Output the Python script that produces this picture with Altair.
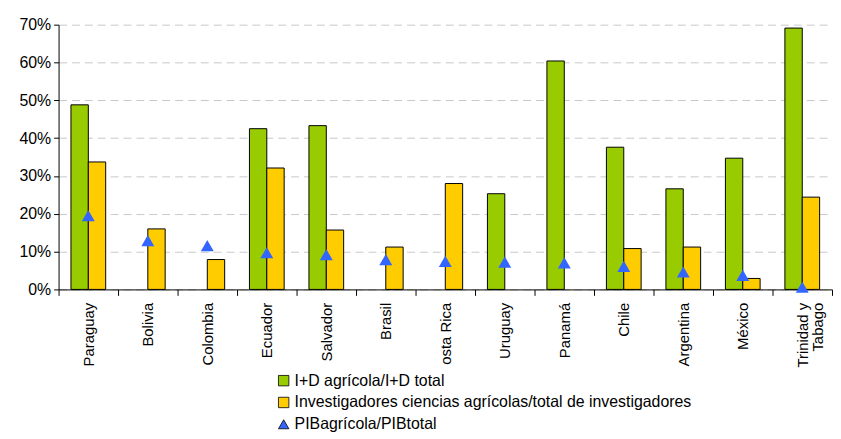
import altair as alt
import pandas as pd

countries = ["Paraguay", "Bolivia", "Colombia", "Ecuador", "Salvador", "Brasil",
             "osta Rica", "Uruguay", "Panamá", "Chile", "Argentina", "México",
             "Trinidad y|Tabago"]
id_agricola = [48.8, None, None, 42.5, 43.3, None, None, 25.3, 60.4, 37.6, 26.6, 34.7, 69.1]
investigadores = [33.7, 16.0, 7.9, 32.1, 15.7, 11.2, 28.0, None, None, 10.8, 11.2, 2.9, 24.4]
pib_agricola = [19.5, 12.9, 11.6, 9.7, 9.2, 7.9, 7.4, 7.2, 7.0, 6.1, 4.6, 3.7, 0.6]

series = ["I+D agrícola/I+D total",
          "Investigadores ciencias agrícolas/total de investigadores",
          "PIBagrícola/PIBtotal"]
colors = ["#99CC00", "#FFCC00", "#3366FF"]
shapes = ["square", "square", "triangle-up"]
y_ticks = [0, 0.1, 0.2, 0.3, 0.4, 0.5, 0.6, 0.7]

rows = []
for c, g, v in zip(countries, id_agricola, investigadores):
    if g is not None:
        rows.append({"pais": c, "serie": series[0], "valor": g / 100})
    if v is not None:
        rows.append({"pais": c, "serie": series[1], "valor": v / 100})
bars_df = pd.DataFrame(rows)
pts_df = pd.DataFrame({"pais": countries, "serie": series[2],
                       "valor": [p / 100 for p in pib_agricola]})

x = alt.X("pais:N", sort=countries,
          scale=alt.Scale(domain=countries, paddingInner=0, paddingOuter=0),
          axis=alt.Axis(title=None, labelAngle=-90, tickBand="extent",
                        labelExpr="split(datum.label, '|')",
                        labelFont="Liberation Sans", labelFontSize=15,
                        labelColor="black", labelPadding=7,
                        domainColor="black", tickColor="black", tickSize=6,
                        labelLineHeight=15))
y = alt.Y("valor:Q", scale=alt.Scale(domain=[0, 0.7], nice=False, zero=True),
          axis=alt.Axis(title=None, values=y_ticks, format=".0%",
                        labelFont="Liberation Sans", labelFontSize=16,
                        labelColor="black", labelPadding=3,
                        domainColor="black", tickColor="black", tickSize=5,
                        grid=True, gridDash=[8, 5], gridColor="#c8c8c8"))

leg = alt.Legend(title=None, orient="none", legendX=219, legendY=351,
                 labelFont="Liberation Sans", labelFontSize=16, labelColor="black",
                 labelLimit=700, symbolSize=110, rowPadding=6,
                 symbolStrokeColor="black", symbolStrokeWidth=0.8, labelOffset=3)
color = alt.Color("serie:N", scale=alt.Scale(domain=series, range=colors), legend=leg)
shape = alt.Shape("serie:N", scale=alt.Scale(domain=series, range=shapes), legend=leg)

bars = alt.Chart(bars_df).mark_bar(stroke="black", strokeWidth=1).encode(
    x=x,
    xOffset=alt.XOffset("serie:N",
                        scale=alt.Scale(domain=series[:2], paddingOuter=0.714, paddingInner=0)),
    y=y,
    color=color,
)
points = alt.Chart(pts_df).mark_point(filled=True, size=170, opacity=1).encode(
    x=x, y=y, color=color, shape=shape,
)

chart = alt.layer(bars, points).properties(
    width=780, height=267,
    padding={"left": 10, "top": 7, "right": 0, "bottom": 0},
).configure_view(stroke=None)

chart.save("out.html", embed_options={"renderer": "svg", "actions": False})
